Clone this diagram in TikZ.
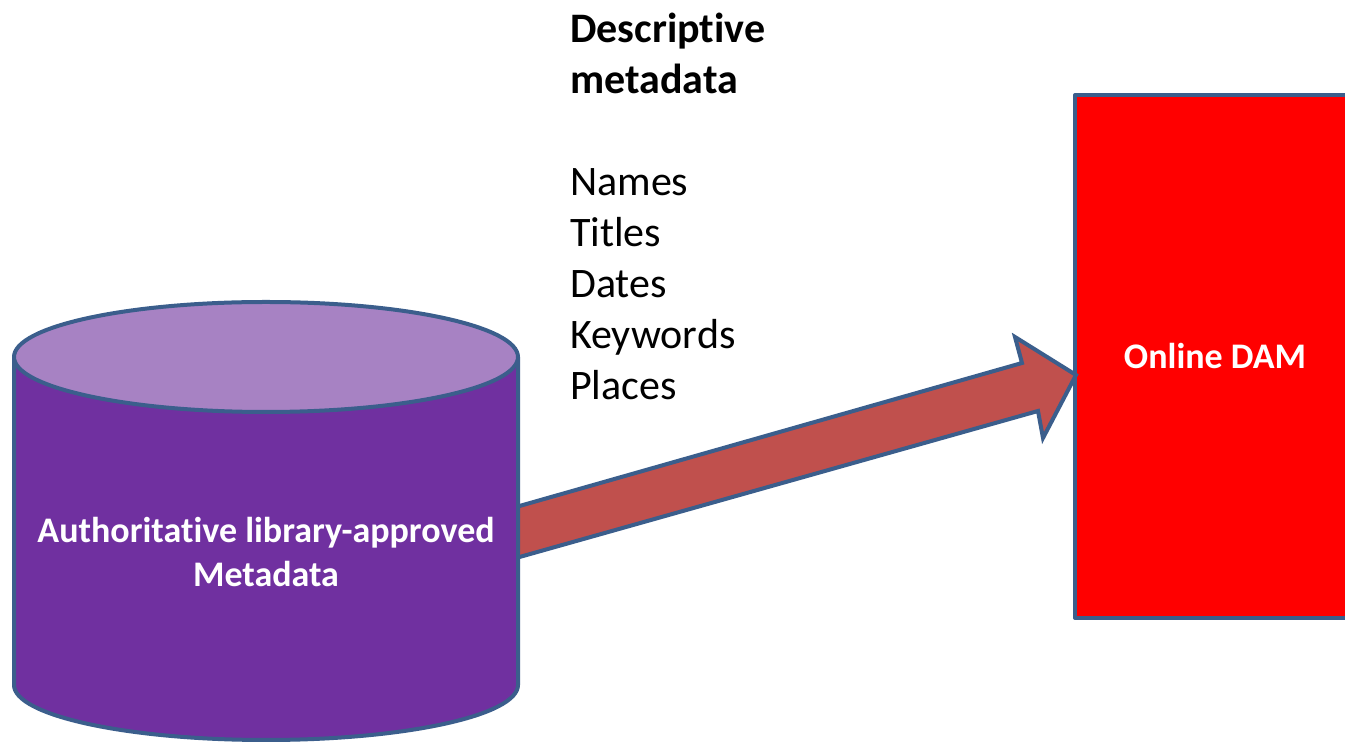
\documentclass[tikz,border=0pt]{standalone}
\usepackage{fontspec}
\setmainfont{Carlito}[RawFeature={-liga}]
\definecolor{bordercol}{HTML}{3B5E8C}
\definecolor{cylbodycol}{HTML}{7030A0}
\definecolor{cyltopcol}{HTML}{A782C3}
\definecolor{arrowcol}{HTML}{C0504D}
\definecolor{damcol}{HTML}{FF0000}
\tikzset{
  edge/.style={draw=bordercol, line width=4pt, line join=round},
  dambox/.style={edge, fill=damcol, minimum width=280pt, minimum height=523pt, inner sep=0pt,
    text=white, font=\fontsize{36}{44}\selectfont\bfseries},
  cyltext/.style={text=white, align=center, font=\fontsize{36}{44}\selectfont\bfseries},
  listtext/.style={align=left, anchor=north west, inner sep=0pt, font=\fontsize{42}{51}\selectfont}
}
\begin{document}
\begin{tikzpicture}[x=1pt,y=1pt]
\useasboundingbox (0,0) rectangle (1345,744);
\clip (0,0) rectangle (1345,744);
\fill[white] (0,0) rectangle (1345,744);
% Online DAM box
\node[dambox] (dam) at (1215,387.5) {Online DAM};
% arrow
\coordinate (a1) at (516,237);
\coordinate (a2) at (1022,381);
\coordinate (a3) at (1015,407);
\coordinate (tip) at (1076,369);
\coordinate (a5) at (1043,306);
\coordinate (a6) at (1038,333);
\coordinate (a7) at (516,186);
\draw[edge, fill=arrowcol, line join=miter] (a1) -- (a2) -- (a3) -- (tip) -- (a5) -- (a6) -- (a7);
% cylinder
\draw[edge, fill=cylbodycol] (14,387) -- (14,59) arc[start angle=180, end angle=360, x radius=252, y radius=55] -- (518,387) -- cycle;
\draw[edge, fill=cyltopcol] (266,387) ellipse[x radius=252, y radius=55];
\node[cyltext] (cyl) at (266,192) {Authoritative library-approved\\Metadata};
% descriptive metadata
\node[listtext] (desc) at (570,731) {\textbf{Descriptive}\\\textbf{metadata}\\[51pt]Names\\Titles\\Dates\\Keywords\\Places};
\end{tikzpicture}
\end{document}
